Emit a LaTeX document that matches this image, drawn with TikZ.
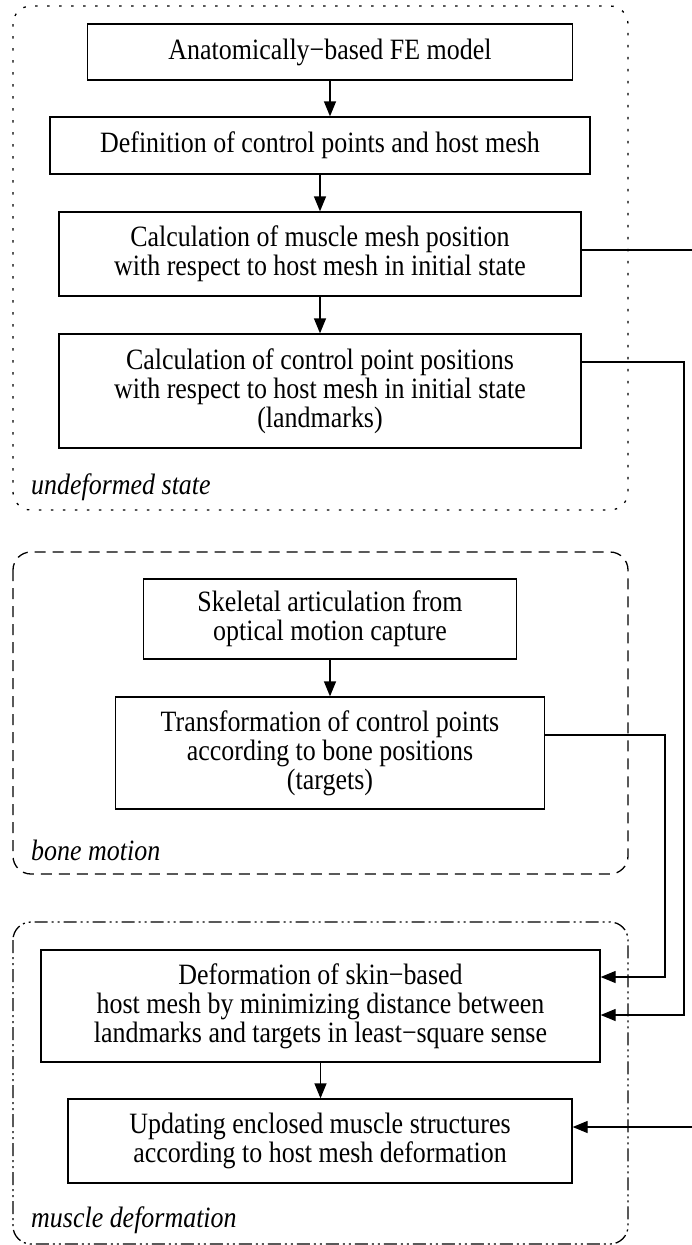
\documentclass[tikz,border=0pt]{standalone}
\usepackage{fontspec}
\setmainfont{Liberation Serif}[FakeStretch=0.88]
\usetikzlibrary{arrows.meta}
\tikzset{
  box/.style={draw, line width=1.3pt, inner sep=0pt, align=center, font=\fontsize{29.5}{29}\selectfont},
  grp/.style={draw, line width=1.3pt, rounded corners=18pt},
  lbl/.style={anchor=west, inner sep=0pt, font=\fontsize{29.5}{29}\selectfont\itshape},
  arr/.style={line width=1.3pt, -{Triangle[length=15pt,width=12pt]}},
  dotgrp/.style={grp, dash pattern=on 2.5pt off 9.5pt},
  dashgrp/.style={grp, dash pattern=on 11pt off 7pt},
  ddgrp/.style={grp, dash pattern=on 13pt off 4pt on 2pt off 4pt on 2pt off 4pt},
}
\begin{document}
\begin{tikzpicture}[x=1pt,y=-1pt]
\useasboundingbox (0,0) rectangle (691,1245);
% groups
\draw[dotgrp] (13,6) rectangle (628,510);
\draw[dashgrp] (13,552) rectangle (628,874);
\draw[ddgrp] (13,922) rectangle (628,1244);
\node[lbl] (l1) at (31,487) {undeformed state};
\node[lbl] (l2) at (31,850) {bone motion};
\node[lbl] (l3) at (31,1220) {muscle deformation};
% boxes
\node[box, minimum width=485pt, minimum height=56pt] (b1) at (330,52) {Anatomically−based FE model};
\node[box, minimum width=540pt, minimum height=57pt] (b2) at (320,145.5) {Definition of control points and host mesh};
\node[box, minimum width=522pt, minimum height=84pt] (b3) at (320,254) {Calculation of muscle mesh position\\with respect to host mesh in initial state};
\node[box, minimum width=522pt, minimum height=114pt] (b4) at (320,391) {Calculation of control point positions\\with respect to host mesh in initial state\\(landmarks)};
\node[box, minimum width=373pt, minimum height=80pt] (b5) at (330,619) {Skeletal articulation from\\optical motion capture};
\node[box, minimum width=429pt, minimum height=112pt] (b6) at (330,753) {Transformation of control points\\according to bone positions\\(targets)};
\node[box, minimum width=559pt, minimum height=112pt] (b7) at (320.5,1006) {Deformation of skin−based\\host mesh by minimizing distance between\\landmarks and targets in least−square sense};
\node[box, minimum width=504pt, minimum height=84pt] (b8) at (320,1141) {Updating enclosed muscle structures\\according to host mesh deformation};
% vertical arrows
\draw[arr] (b1.south) -- (b1.south |- b2.north);
\draw[arr] (b2.south) -- (b2.south |- b3.north);
\draw[arr] (b3.south) -- (b3.south |- b4.north);
\draw[arr] (b5.south) -- (b5.south |- b6.north);
\draw[arr] (b7.south) -- (b7.south |- b8.north);
% side connectors
\coordinate (k1a) at (700,250);
\coordinate (k1b) at (700,1127);
\coordinate (k2a) at (684,362);
\coordinate (k2b) at (684,1015);
\coordinate (k3a) at (665,735);
\coordinate (k3b) at (665,977);
\draw[arr] (b3.east |- k1a) -- (k1a) -- (k1b) -- (b8.east |- k1b);
\draw[arr] (b4.east |- k2a) -- (k2a) -- (k2b) -- (b7.east |- k2b);
\draw[arr] (b6.east |- k3a) -- (k3a) -- (k3b) -- (b7.east |- k3b);
\end{tikzpicture}
\end{document}
